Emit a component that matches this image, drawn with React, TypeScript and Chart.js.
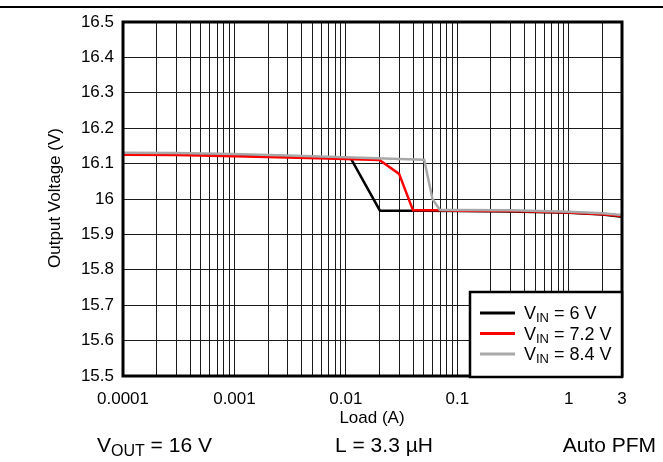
import React, { useEffect, useRef } from "react";
import { Chart, registerables } from "chart.js";

Chart.register(...registerables);

const FONT = '"Liberation Sans", Arial, Helvetica, sans-serif';

// Series data (Load in A, Output voltage in V)
const vin6Load = [0.0001, 0.0003, 0.001, 0.003, 0.0111, 0.0202, 0.05, 0.1, 0.3, 1, 2, 3];
const vin6Vout = [16.129, 16.127, 16.124, 16.12, 16.114, 15.967, 15.967, 15.966, 15.965, 15.961, 15.956, 15.95];

const vin72Load = [0.0001, 0.0003, 0.001, 0.003, 0.01, 0.02, 0.03, 0.04, 0.07, 0.1, 0.3, 1, 2, 3];
const vin72Vout = [16.125, 16.124, 16.121, 16.117, 16.113, 16.11, 16.071, 15.968, 15.968, 15.967, 15.966, 15.962, 15.957, 15.952];

const vin84Load = [0.0001, 0.0003, 0.001, 0.003, 0.01, 0.03, 0.0504, 0.0598, 0.0697, 0.1, 0.3, 1, 2, 3];
const vin84Vout = [16.131, 16.13, 16.127, 16.123, 16.118, 16.113, 16.111, 16.0, 15.969, 15.969, 15.968, 15.964, 15.96, 15.955];

const seriesNames = ["6 V", "7.2 V", "8.4 V"];
const seriesColors = ["#000000", "#ff0000", "#a8a8a8"];

const xTickValues = [0.0001, 0.001, 0.01, 0.1, 1, 3];
const xTickLabels = ["0.0001", "0.001", "0.01", "0.1", "1", "3"];
const xMin = 0.0001;
const xMax = 3;
const yMin = 15.5;
const yMax = 16.5;
const yStep = 0.1;

const noteVout = ["V", "OUT", " = 16 V"];
const noteL = "L = 3.3 µH";
const noteMode = "Auto PFM";
const xTitle = "Load (A)";
const yTitle = "Output Voltage (V)";

function toPoints(xs: number[], ys: number[]) {
  return xs.map((x, i) => ({ x, y: ys[i] }));
}

function gridValues(): number[] {
  const out: number[] = [];
  for (let e = -4; e <= 0; e++) {
    const d = Math.pow(10, e);
    for (let k = 1; k <= 9; k++) {
      const v = parseFloat((k * d).toPrecision(6));
      if (v <= xMax + 1e-9) out.push(v);
    }
  }
  return out;
}

export default function App() {
  const ref = useRef<HTMLCanvasElement | null>(null);

  useEffect(() => {
    const canvas = ref.current;
    if (!canvas) return;

    const decor = {
      id: "decor",
      afterDraw(chart: any) {
        const ctx = chart.ctx as CanvasRenderingContext2D;
        const a = chart.chartArea;
        ctx.save();
        // top rule
        ctx.strokeStyle = "#000";
        ctx.lineWidth = 2;
        ctx.beginPath();
        ctx.moveTo(0, 7);
        ctx.lineTo(663, 7);
        ctx.stroke();
        // frame
        ctx.lineWidth = 3;
        ctx.strokeRect(a.left, a.top, a.right - a.left, a.bottom - a.top);

        // legend
        const lx = 470, ly = 292, lw = 152, lh = 85;
        ctx.fillStyle = "#fff";
        ctx.fillRect(lx, ly, lw, lh);
        ctx.lineWidth = 2.5;
        ctx.strokeStyle = "#000";
        ctx.strokeRect(lx, ly, lw, lh);
        const rows = [313, 333.5, 354];
        seriesNames.forEach((name, i) => {
          const y = rows[i];
          ctx.strokeStyle = seriesColors[i];
          ctx.lineWidth = 3;
          ctx.beginPath();
          ctx.moveTo(480, y);
          ctx.lineTo(515, y);
          ctx.stroke();
          ctx.fillStyle = "#000";
          ctx.textBaseline = "alphabetic";
          ctx.textAlign = "left";
          let x = 524;
          const base = y + 6;
          ctx.font = `18px ${FONT}`;
          ctx.fillText("V", x, base);
          x += ctx.measureText("V").width;
          ctx.font = `13px ${FONT}`;
          ctx.fillText("IN", x, base + 3);
          x += ctx.measureText("IN").width;
          ctx.font = `18px ${FONT}`;
          ctx.fillText(" = " + name, x, base);
        });

        // axis titles
        ctx.fillStyle = "#000";
        ctx.font = `17px ${FONT}`;
        ctx.textAlign = "center";
        ctx.textBaseline = "middle";
        ctx.fillText(xTitle, 372, 418);
        ctx.save();
        ctx.translate(55, 198);
        ctx.rotate(-Math.PI / 2);
        ctx.fillText(yTitle, 0, 0);
        ctx.restore();

        // bottom notes
        ctx.textBaseline = "alphabetic";
        ctx.textAlign = "left";
        let nx = 97;
        const nb = 452;
        ctx.font = `21px ${FONT}`;
        ctx.fillText(noteVout[0], nx, nb);
        nx += ctx.measureText(noteVout[0]).width;
        ctx.font = `16px ${FONT}`;
        ctx.fillText(noteVout[1], nx, nb + 4);
        nx += ctx.measureText(noteVout[1]).width;
        ctx.font = `21px ${FONT}`;
        ctx.fillText(noteVout[2], nx, nb);
        ctx.fillText(noteL, 335, nb);
        ctx.textAlign = "right";
        ctx.fillText(noteMode, 656, nb);
        ctx.restore();
      },
    };

    const grids = gridValues();

    const chart = new Chart(canvas, {
      type: "line",
      data: {
        datasets: [
          { label: seriesNames[2], data: toPoints(vin84Load, vin84Vout), borderColor: seriesColors[2], order: 0 },
          { label: seriesNames[1], data: toPoints(vin72Load, vin72Vout), borderColor: seriesColors[1], order: 1 },
          { label: seriesNames[0], data: toPoints(vin6Load, vin6Vout), borderColor: seriesColors[0], order: 2 },
        ].map((d) => ({ ...d, borderWidth: 2.5, pointRadius: 0, fill: false, tension: 0 })),
      },
      options: {
        animation: false,
        responsive: false,
        devicePixelRatio: 1,
        layout: { padding: { top: 22, right: 41, left: 0, bottom: 0 } },
        plugins: { legend: { display: false }, tooltip: { enabled: false } },
        scales: {
          x: {
            type: "logarithmic",
            min: xMin,
            max: xMax,
            afterBuildTicks: (scale: any) => {
              scale.ticks = grids.map((v) => ({ value: v }));
            },
            afterFit: (scale: any) => {
              scale.height = 86;
            },
            grid: { color: "#1a1a1a", lineWidth: 1, drawTicks: false },
            border: { display: false },
            ticks: {
              autoSkip: false,
              maxRotation: 0,
              padding: 13,
              color: "#000",
              font: { family: FONT, size: 17 },
              callback: (value: any) => {
                const v = Number(value);
                const i = xTickValues.findIndex((t) => Math.abs(t - v) / t < 1e-6);
                return i >= 0 ? xTickLabels[i] : "";
              },
            },
          },
          y: {
            type: "linear",
            min: yMin,
            max: yMax,
            afterFit: (scale: any) => {
              scale.width = 123;
            },
            grid: { color: "#1a1a1a", lineWidth: 1, drawTicks: false },
            border: { display: false },
            ticks: {
              stepSize: yStep,
              padding: 9,
              color: "#000",
              font: { family: FONT, size: 17 },
              callback: (value: any) => String(parseFloat(Number(value).toFixed(1))),
            },
          },
        },
      },
      plugins: [decor],
    } as any);

    return () => chart.destroy();
  }, []);

  return (
    <div style={{ position: "absolute", left: 0, top: 0, width: 663, height: 462 }}>
      <canvas ref={ref} width={663} height={462} style={{ display: "block" }} />
    </div>
  );
}
